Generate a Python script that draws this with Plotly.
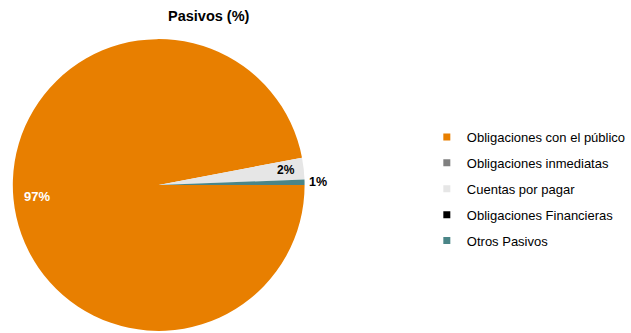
import math
import plotly.graph_objects as go

# Composición de pasivos (%)
categorias = [
    "Obligaciones con el público",
    "Obligaciones inmediatas",
    "Cuentas por pagar",
    "Obligaciones Financieras",
    "Otros Pasivos",
]
valores = [97.0, 0.0, 2.4, 0.0, 0.6]
colores = ["#E87F00", "#808080", "#E6E6E6", "#000000", "#4A8587"]

# Estilo de la etiqueta de cada segmento: color, tamaño y distancia radial relativa
color_etiqueta = ["#FFFFFF", "#000000", "#000000", "#000000", "#000000"]
tam_etiqueta = [13, 12, 12, 12, 12.5]
radio_etiqueta = [0.84, 0.0, 0.88, 0.0, 1.09]

FUENTE = "Liberation Sans, Arial, sans-serif"
W, H = 631, 333

# Geometría del pastel (píxeles)
PIE_X0, PIE_X1 = 13, 309
PIE_H = 296
ROTACION = 90  # el primer segmento arranca a las 3 en punto, sentido horario

fig = go.Figure()

fig.add_trace(go.Pie(
    labels=categorias,
    values=valores,
    sort=False,
    direction="clockwise",
    rotation=ROTACION,
    marker=dict(colors=colores, line=dict(width=0)),
    textinfo="none",
    showlegend=False,
    hoverinfo="label+percent",
    domain=dict(x=[PIE_X0 / W, PIE_X1 / W], y=[0, PIE_H / H]),
))

# Etiquetas de porcentaje sobre la bisectriz de cada segmento
total = sum(valores)
cx = (PIE_X0 + PIE_X1) / 2
cy = H - PIE_H / 2
r = min(PIE_X1 - PIE_X0, PIE_H) / 2
anotaciones = []
acum = 0.0
for v, col, tam, k in zip(valores, color_etiqueta, tam_etiqueta, radio_etiqueta):
    frac = v / total
    if v > 0:
        theta = math.radians((90 - ROTACION) - 360 * (acum + frac / 2))
        px = cx + k * r * math.cos(theta)
        py = cy - k * r * math.sin(theta)
        anotaciones.append(dict(
            text=f"<b>{round(frac * 100):d}%</b>",
            x=px / W, y=1 - py / H,
            xref="paper", yref="paper",
            xanchor="center", yanchor="middle",
            showarrow=False,
            font=dict(family=FUENTE, size=tam, color=col),
        ))
    acum += frac

anotaciones.append(dict(
    text="<b>Pasivos (%)</b>",
    x=212 / W,
    y=1 - 16 / H,
    xref="paper",
    yref="paper",
    xanchor="center",
    yanchor="middle",
    showarrow=False,
    font=dict(family=FUENTE, size=14.5, color="#000000"),
))

# Leyenda con marcadores cuadrados pequeños
for i, (nombre, color) in enumerate(zip(categorias, colores)):
    fig.add_trace(go.Scatter(
        x=[None], y=[None],
        mode="markers",
        name=nombre,
        legendgroup=f"g{i}",
        marker=dict(symbol="square", size=7, color=color),
        hoverinfo="skip",
    ))

fig.update_layout(
    width=W,
    height=H,
    margin=dict(l=0, r=0, t=0, b=0),
    paper_bgcolor="white",
    plot_bgcolor="white",
    font=dict(family=FUENTE, size=13, color="#000000"),
    xaxis=dict(visible=False),
    yaxis=dict(visible=False),
    showlegend=True,
    legend=dict(
        x=433 / W,
        y=1 - 122 / H,
        xanchor="left",
        yanchor="top",
        tracegroupgap=6,
        font=dict(family=FUENTE, size=13, color="#000000"),
        bgcolor="rgba(0,0,0,0)",
    ),
    annotations=anotaciones,
)

fig.write_html("out.html")
